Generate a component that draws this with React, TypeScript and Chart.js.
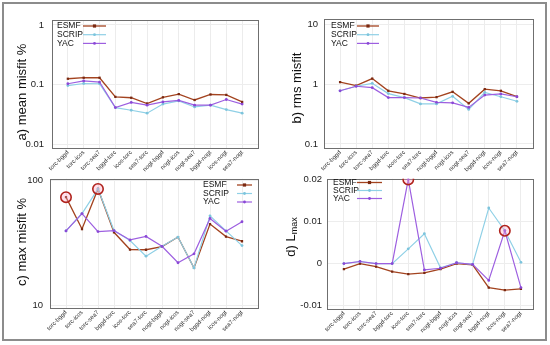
import React, { useEffect, useRef } from 'react';
import { Chart, registerables } from 'chart.js';
Chart.register(...registerables);

const FONT = '"Liberation Sans", Arial, Helvetica, sans-serif';

const categories = ['torc-bggd', 'torc-icos', 'torc-sea7', 'bggd-torc', 'icos-torc', 'sea7-torc', 'nogt-bggd', 'nogt-icos', 'nogt-sea7', 'bggd-nogt', 'icos-nogt', 'sea7-nogt'];
const seriesNames = ['ESMF', 'SCRIP', 'YAC'];

const meanESMF = [0.125, 0.13, 0.13, 0.062, 0.06, 0.048, 0.061, 0.069, 0.055, 0.068, 0.067, 0.051];
const meanSCRIP = [0.096, 0.104, 0.103, 0.041, 0.037, 0.033, 0.047, 0.053, 0.042, 0.045, 0.038, 0.033];
const meanYAC = [0.103, 0.115, 0.11, 0.041, 0.05, 0.045, 0.051, 0.054, 0.045, 0.045, 0.056, 0.047];

const rmsESMF = [1.09, 0.95, 1.25, 0.78, 0.69, 0.59, 0.61, 0.75, 0.48, 0.83, 0.78, 0.62];
const rmsSCRIP = [0.78, 0.93, 1.04, 0.7, 0.6, 0.47, 0.47, 0.63, 0.38, 0.73, 0.62, 0.52];
const rmsYAC = [0.78, 0.93, 0.88, 0.6, 0.6, 0.59, 0.5, 0.49, 0.41, 0.66, 0.69, 0.62];

const maxESMF = [73, 40.6, 85, 38.2, 27.8, 27.7, 29.4, 35, 19.8, 44.5, 35.3, 32.4];
const maxSCRIP = [39.2, 54, 85, 39.5, 32.8, 24.6, 29.5, 35, 19.8, 51.8, 39.2, 29.9];
const maxYAC = [39.2, 54, 38.7, 39.4, 33.2, 35.4, 29.5, 21.8, 25.7, 49.3, 39, 46.4];

const lmaxESMF = [-0.0013, 0, -0.0007, -0.0019, -0.0025, -0.0022, -0.0013, 0, -0.0003, -0.0057, -0.0063, -0.006];
const lmaxSCRIP = [0, 0.0005, 0, 0, 0.0035, 0.0071, -0.001, 0.0002, -0.0002, 0.0132, 0.0078, 0.0003];
const lmaxYAC = [0, 0.0005, 0, 0, 0.02, -0.0015, -0.0011, 0.0002, -0.0002, -0.004, 0.0078, -0.0057];

const meanTicks = [0.01, 0.1, 1];
const rmsTicks = [0.1, 1, 10];
const maxTicks = [10, 100];
const lmaxTicks = [-0.01, 0, 0.01, 0.02];

const maxHighlight = [0, 2]; // indices of circled ESMF points
const lmaxHighlight = [4, 10]; // indices of circled YAC points

const COLORS = ['#a3431f', '#8fd0e6', '#9d5fe0'];
const POINT_COLORS = ['#7a2810', '#7cc4dc', '#8a48d6'];

type Spec = {
  left: number; top: number; w: number; h: number;
  series: number[][];
  log: boolean; min: number; max: number; ticks: number[];
  area: { l: number; t: number; r: number; b: number };
  tickPad: number;
  xmin: number; xmax: number;
  title: string; sub?: string; titleX: number; titleY: number;
  legend: { tx: number; ty: number; dy: number; lx1: number; lx2: number };
  highlight?: { idx: number[]; from: number };
};

const specs: Spec[] = [
  {
    left: 0, top: 0, w: 275, h: 172,
    series: [meanESMF, meanSCRIP, meanYAC],
    log: true, min: 0.0086, max: 1.21, ticks: meanTicks,
    area: { l: 52, t: 20, r: 258, b: 148 }, tickPad: 8,
    xmin: -1, xmax: 12,
    title: 'a) mean misfit %', titleX: 22, titleY: 92,
    legend: { tx: 57, ty: 26, dy: 8.7, lx1: 83, lx2: 106 },
  },
  {
    left: 275, top: 0, w: 275, h: 172,
    series: [rmsESMF, rmsSCRIP, rmsYAC],
    log: true, min: 0.0855, max: 12.5, ticks: rmsTicks,
    area: { l: 49, t: 19, r: 258, b: 148 }, tickPad: 6,
    xmin: -1, xmax: 12,
    title: 'b) rms misfit', titleX: 22, titleY: 88,
    legend: { tx: 56, ty: 26, dy: 8.7, lx1: 82, lx2: 104 },
  },
  {
    left: 0, top: 172, w: 275, h: 173,
    series: [maxESMF, maxSCRIP, maxYAC],
    log: true, min: 9.47, max: 102.4, ticks: maxTicks,
    area: { l: 50, t: 6, r: 258, b: 136 }, tickPad: 7,
    xmin: -1, xmax: 12,
    title: 'c) max misfit %', titleX: 22, titleY: 70,
    legend: { tx: 203, ty: 13, dy: 8.5, lx1: 237, lx2: 252 },
    highlight: { idx: maxHighlight, from: 0 },
  },
  {
    left: 275, top: 172, w: 275, h: 173,
    series: [lmaxESMF, lmaxSCRIP, lmaxYAC],
    log: false, min: -0.01078, max: 0.02014, ticks: lmaxTicks,
    area: { l: 52, t: 6, r: 258, b: 137 }, tickPad: 5,
    xmin: -1.05, xmax: 11.75,
    title: 'd) L', sub: 'max', titleX: 16, titleY: 65,
    legend: { tx: 58, ty: 10.5, dy: 8, lx1: 82, lx2: 107 },
    highlight: { idx: lmaxHighlight, from: 2 },
  },
];

function fmt(v: number): string {
  if (v === 0) return '0';
  return String(Number(v.toPrecision(6)));
}

function buildChart(canvas: HTMLCanvasElement, s: Spec): Chart {
  const datasets: any[] = s.series.map((vals, i) => ({
    label: seriesNames[i],
    data: vals.map((v, j) => ({ x: j, y: v })),
    borderColor: COLORS[i],
    backgroundColor: POINT_COLORS[i],
    pointBackgroundColor: POINT_COLORS[i],
    pointBorderColor: POINT_COLORS[i],
    borderWidth: i === 0 ? 1.3 : 1.2,
    pointRadius: i === 0 ? 1.6 : 1.4,
    pointStyle: i === 0 ? 'rect' : 'circle',
    pointBorderWidth: 0,
    tension: 0,
    order: 3 - i,
  }));
  if (s.highlight) {
    const src = s.series[s.highlight.from];
    datasets.push({
      label: 'hl',
      data: s.highlight.idx.map((j) => ({ x: j, y: src[j] })),
      showLine: false,
      pointRadius: 5.2,
      pointBorderWidth: 1.6,
      pointBorderColor: '#b0221c',
      pointBackgroundColor: 'rgba(255,170,200,0.35)',
      order: -1,
    });
  }

  const deco = {
    id: 'deco',
    beforeDatasetsDraw(chart: any) {
      const { ctx, chartArea: a } = chart;
      ctx.save();
      ctx.strokeStyle = '#6f6f6f';
      ctx.lineWidth = 1;
      ctx.strokeRect(Math.round(a.left) + 0.5, Math.round(a.top) + 0.5, Math.round(a.right - a.left), Math.round(a.bottom - a.top));
      ctx.restore();
    },
    afterDraw(chart: any) {
      const { ctx } = chart;
      ctx.save();
      // legend
      const L = s.legend;
      ctx.font = `8.5px ${FONT}`;
      ctx.textBaseline = 'middle';
      ctx.textAlign = 'left';
      for (let i = 0; i < 3; i++) {
        const y = L.ty + i * L.dy;
        ctx.fillStyle = '#111';
        ctx.fillText(seriesNames[i], L.tx, y);
        ctx.strokeStyle = COLORS[i];
        ctx.lineWidth = i === 0 ? 1.3 : 1.2;
        ctx.beginPath();
        ctx.moveTo(L.lx1, y);
        ctx.lineTo(L.lx2, y);
        ctx.stroke();
        ctx.fillStyle = POINT_COLORS[i];
        const cx = (L.lx1 + L.lx2) / 2;
        if (i === 0) ctx.fillRect(cx - 1.6, y - 1.6, 3.2, 3.2);
        else { ctx.beginPath(); ctx.arc(cx, y, 1.4, 0, Math.PI * 2); ctx.fill(); }
      }
      // y title
      ctx.translate(s.titleX, s.titleY);
      ctx.rotate(-Math.PI / 2);
      ctx.fillStyle = '#111';
      ctx.textBaseline = 'middle';
      ctx.font = `13px ${FONT}`;
      const mainW = ctx.measureText(s.title).width;
      let subW = 0;
      if (s.sub) {
        ctx.font = `9px ${FONT}`;
        subW = ctx.measureText(s.sub).width;
      }
      const total = mainW + subW;
      ctx.font = `13px ${FONT}`;
      ctx.textAlign = 'left';
      ctx.fillText(s.title, -total / 2, 0);
      if (s.sub) {
        ctx.font = `9px ${FONT}`;
        ctx.fillText(s.sub, -total / 2 + mainW, 4);
      }
      ctx.restore();
    },
  };

  return new Chart(canvas, {
    type: 'line',
    data: { datasets },
    plugins: [deco],
    options: {
      responsive: false,
      animation: false,
      devicePixelRatio: 1,
      layout: { padding: { left: 0, top: s.area.t, right: s.w - s.area.r, bottom: 0 } },
      plugins: { legend: { display: false }, tooltip: { enabled: false } },
      scales: {
        x: {
          type: 'linear',
          min: s.xmin,
          max: s.xmax,
          afterBuildTicks: (sc: any) => { sc.ticks = categories.map((_, j) => ({ value: j })); },
          afterFit: (sc: any) => {
            sc.height = s.h - s.area.b;
            sc.paddingLeft = 0; sc.paddingRight = 0;
          },
          ticks: {
            autoSkip: false,
            maxRotation: 45,
            minRotation: 45,
            padding: 1,
            color: '#333',
            font: { family: FONT, size: 6 },
            callback: (v: any) => categories[Math.round(Number(v))] ?? '',
          },
          grid: { color: '#ececec', lineWidth: 1, drawTicks: false },
          border: { display: false },
        },
        y: {
          type: s.log ? 'logarithmic' : 'linear',
          min: s.min,
          max: s.max,
          afterBuildTicks: (sc: any) => { sc.ticks = s.ticks.map((v) => ({ value: v })); },
          afterFit: (sc: any) => {
            sc.width = s.area.l;
            sc.paddingTop = 0; sc.paddingBottom = 0;
          },
          ticks: {
            autoSkip: false,
            padding: s.tickPad,
            color: '#222',
            font: { family: FONT, size: 9.5 },
            callback: (v: any) => fmt(Number(v)),
          },
          grid: { color: '#ededed', lineWidth: 1, drawTicks: false },
          border: { display: false },
        },
      },
    } as any,
  });
}

function Panel({ spec }: { spec: Spec }) {
  const ref = useRef<HTMLCanvasElement | null>(null);
  useEffect(() => {
    if (!ref.current) return;
    const ch = buildChart(ref.current, spec);
    return () => ch.destroy();
  }, [spec]);
  return (
    <canvas
      ref={ref}
      width={spec.w}
      height={spec.h}
      style={{ position: 'absolute', left: spec.left, top: spec.top, width: spec.w, height: spec.h }}
    />
  );
}

export default function App() {
  return (
    <div style={{ position: 'absolute', left: 0, top: 0, width: 550, height: 345, background: '#fff', overflow: 'hidden' }}>
      {specs.map((s, i) => <Panel key={i} spec={s} />)}
      <div style={{ position: 'absolute', left: 2, top: 2, width: 545, height: 339, boxSizing: 'border-box', border: '2px solid #8c8c8c', pointerEvents: 'none' }} />
    </div>
  );
}
